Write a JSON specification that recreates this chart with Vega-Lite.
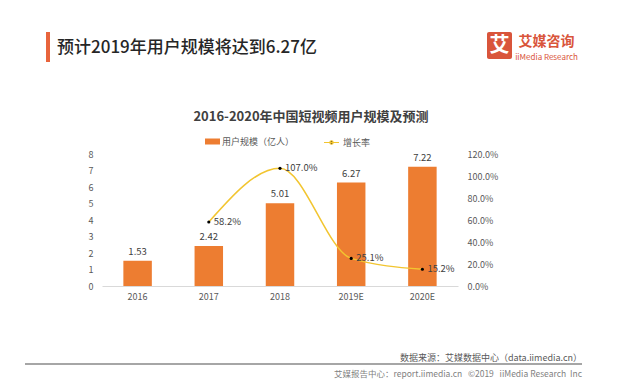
{
  "$schema": "https://vega.github.io/schema/vega-lite/v6.json",
  "background": "white",
  "padding": {"left": 25, "top": 32, "right": 58, "bottom": 6},
  "spacing": 0,
  "resolve": {"scale": {"fill": "independent", "stroke": "independent"}, "legend": {"fill": "independent", "stroke": "independent"}},
  "config": {
    "view": {"stroke": null},
    "font": "Noto Sans CJK SC",
    "title": {"font": "Noto Sans CJK SC"},
    "axis": {"labelFont": "Noto Sans CJK SC", "titleFont": "Noto Sans CJK SC"},
    "legend": {"labelFont": "Noto Sans CJK SC"}
  },
  "vconcat": [
    {
      "bounds": "flush",
      "spacing": 0,
      "hconcat": [
        {"width": 21, "height": 30, "data": {"values": [{}]}, "mark": {"type": "rect", "opacity": 0}},
        {"width": 4, "height": 30, "data": {"values": [{}]}, "mark": {"type": "rect", "color": "#E8643C"}},
        {"width": 8, "height": 30, "data": {"values": [{}]}, "mark": {"type": "rect", "opacity": 0}},
        {
          "width": 258, "height": 30,
          "data": {"values": [{}]},
          "mark": {"type": "text", "text": "预计2019年用户规模将达到6.27亿", "align": "center", "baseline": "middle", "dy": 1,
            "fontSize": 17, "fontWeight": 500, "color": "#262626"}
        },
        {"width": 171, "height": 30, "data": {"values": [{}]}, "mark": {"type": "rect", "opacity": 0}},
        {
          "width": 25, "height": 27,
          "data": {"values": [{}]},
          "layer": [
            {"mark": {"type": "rect", "color": "#D9553B", "cornerRadius": 2}},
            {"mark": {"type": "text", "text": "艾", "color": "white", "fontSize": 20, "fontWeight": "bold", "align": "center", "baseline": "middle"}}
          ]
        },
        {"width": 6, "height": 30, "data": {"values": [{}]}, "mark": {"type": "rect", "opacity": 0}},
        {
          "width": 57, "height": 30,
          "data": {"values": [{}]},
          "layer": [
            {"mark": {"type": "text", "text": "艾媒咨询", "align": "center", "baseline": "bottom", "dy": 2,
              "fontSize": 14, "fontWeight": "bold", "color": "#D9553B"}},
            {"mark": {"type": "text", "text": "iiMedia Research", "align": "center", "baseline": "top", "dy": 7,
              "fontSize": 8, "color": "#D9553B"}}
          ]
        }
      ]
    },
    {"width": 1, "height": 49, "data": {"values": [{}]}, "mark": {"type": "rect", "opacity": 0}},
    {
      "bounds": "flush",
      "spacing": 0,
      "resolve": {"scale": {"fill": "independent", "stroke": "independent"}, "legend": {"fill": "independent", "stroke": "independent"}},
      "hconcat": [
        {"width": 77, "height": 132, "data": {"values": [{}]}, "mark": {"type": "rect", "opacity": 0}},
        {
          "width": 356, "height": 132,
          "data": {"values": [
            {"year": "2016", "users": 1.53, "rate": null},
            {"year": "2017", "users": 2.42, "rate": 0.582},
            {"year": "2018", "users": 5.01, "rate": 1.07},
            {"year": "2019E", "users": 6.27, "rate": 0.251},
            {"year": "2020E", "users": 7.22, "rate": 0.152}
          ]},
          "title": {
            "text": "2016-2020年中国短视频用户规模及预测",
            "anchor": "middle", "frame": "group", "dx": 31, "offset": 10,
            "fontSize": 13, "fontWeight": "bold", "color": "#404040"
          },
          "encoding": {
            "x": {
              "field": "year", "type": "nominal", "sort": null,
              "scale": {"paddingInner": 0.6, "paddingOuter": 0.3},
              "axis": {"title": null, "labelAngle": 0, "domainColor": "#D9D9D9", "ticks": false, "labelColor": "#595959", "labelFontSize": 9, "labelPadding": 6}
            }
          },
          "layer": [
            {
              "encoding": {
                "y": {
                  "field": "users", "type": "quantitative",
                  "scale": {"domain": [0, 8]},
                  "axis": {"title": null, "values": [0, 1, 2, 3, 4, 5, 6, 7, 8], "grid": false, "domain": false, "ticks": false, "labelColor": "#595959", "labelFontSize": 9, "labelPadding": 9}
                }
              },
              "layer": [
                {
                  "mark": {"type": "bar"},
                  "encoding": {
                    "fill": {
                      "datum": "用户规模（亿人）", "type": "nominal",
                      "scale": {"range": ["#ED7D31"]},
                      "legend": {"orient": "none", "legendX": 103, "legendY": -20, "title": null, "padding": 0,
                        "symbolType": "M-1,-0.4H1V0.4H-1Z", "symbolSize": 225, "symbolStrokeWidth": 0,
                        "labelFontSize": 9, "labelColor": "#595959", "labelOffset": 2}
                    }
                  }
                },
                {
                  "mark": {"type": "text", "baseline": "bottom", "dy": -4, "fontSize": 9.5, "color": "#404040"},
                  "encoding": {"text": {"field": "users", "type": "quantitative", "format": ".2f"}}
                }
              ]
            },
            {
              "transform": [{"filter": "datum.rate != null"}],
              "encoding": {
                "y": {
                  "field": "rate", "type": "quantitative",
                  "scale": {"domain": [0, 1.2]},
                  "axis": {"title": null, "orient": "right", "format": ".1%", "values": [0, 0.2, 0.4, 0.6, 0.8, 1.0, 1.2], "grid": false, "domain": false, "ticks": false, "labelColor": "#595959", "labelFontSize": 9, "labelPadding": 9}
                }
              },
              "layer": [
                {
                  "mark": {"type": "line", "interpolate": "monotone", "strokeWidth": 1.5},
                  "encoding": {
                    "stroke": {
                      "datum": "增长率", "type": "nominal",
                      "scale": {"range": ["#F2C530"]},
                      "legend": {"orient": "none", "legendX": 221, "legendY": -20, "title": null, "padding": 0,
                        "symbolType": "M-1,0H1M-0.22,0A0.22,0.22,0,1,1,0.22,0A0.22,0.22,0,1,1,-0.22,0",
                        "symbolSize": 225, "symbolStrokeWidth": 1.2,
                        "labelFontSize": 9, "labelColor": "#595959", "labelOffset": 3,
                        "encode": {"symbols": {"update": {"fill": {"value": "#000000"}}}}}
                    }
                  }
                },
                {
                  "mark": {"type": "point", "filled": true, "color": "#000000", "size": 10, "opacity": 1}
                },
                {
                  "mark": {"type": "text", "align": "left", "baseline": "middle", "dx": 5, "fontSize": 9.5, "color": "#404040"},
                  "encoding": {"text": {"field": "rate", "type": "quantitative", "format": ".1%"}}
                }
              ]
            }
          ],
          "resolve": {"scale": {"y": "independent"}}
        }
      ]
    },
    {"width": 1, "height": 53, "data": {"values": [{}]}, "mark": {"type": "rect", "opacity": 0}},
    {
      "width": 557, "height": 2,
      "data": {"values": [{}]},
      "mark": {"type": "rect", "color": "#A6A6A6"},
      "title": {
        "text": "数据来源：艾媒数据中心（data.iimedia.cn）",
        "orient": "top", "anchor": "end", "offset": 0,
        "fontSize": 9, "fontWeight": "normal", "color": "#595959"
      }
    },
    {
      "width": 557, "height": 1,
      "data": {"values": [{}]},
      "mark": {"type": "rect", "opacity": 0},
      "title": {
        "text": "艾媒报告中心：report.iimedia.cn\u00a0\u00a0\u00a0©2019\u00a0\u00a0\u00a0iiMedia Research\u00a0\u00a0Inc",
        "orient": "bottom", "anchor": "end", "offset": 4,
        "fontSize": 8.5, "fontWeight": "normal", "color": "#7F7F7F"
      }
    }
  ]
}
